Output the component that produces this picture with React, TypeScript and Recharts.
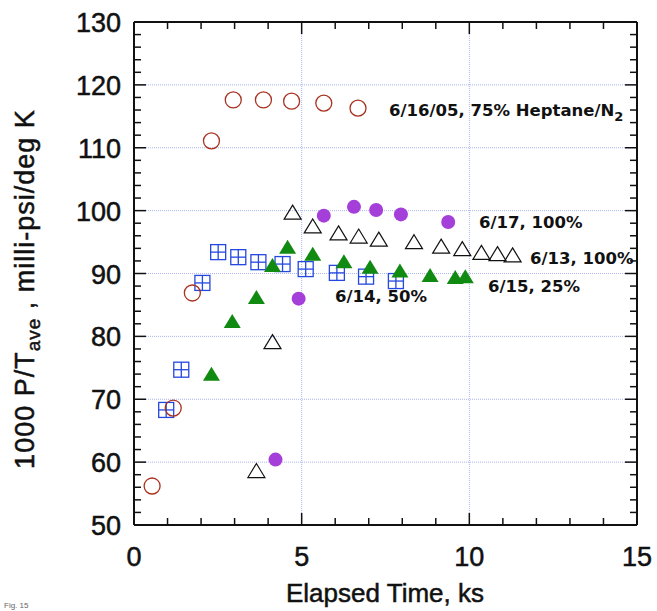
import React from "react";
import { ScatterChart, Scatter, XAxis, YAxis, ReferenceLine } from "recharts";

// elapsed time (ks) vs 1000 P/Tave (milli-psi/deg K)
const run0616 = [
	{ t: 0.54, p: 56.2 },
	{ t: 1.17, p: 68.6 },
	{ t: 1.74, p: 86.9 },
	{ t: 2.31, p: 111.1 },
	{ t: 2.96, p: 117.6 },
	{ t: 3.86, p: 117.6 },
	{ t: 4.7, p: 117.4 },
	{ t: 5.66, p: 117.1 },
	{ t: 6.68, p: 116.3 },
];
const run0614 = [
	{ t: 0.96, p: 68.3 },
	{ t: 1.41, p: 74.7 },
	{ t: 2.04, p: 88.5 },
	{ t: 2.51, p: 93.4 },
	{ t: 3.11, p: 92.6 },
	{ t: 3.71, p: 91.8 },
	{ t: 4.43, p: 91.5 },
	{ t: 5.12, p: 90.7 },
	{ t: 6.05, p: 90.1 },
	{ t: 6.92, p: 89.5 },
	{ t: 7.81, p: 88.8 },
];
const run0613 = [
	{ t: 3.65, p: 58.5 },
	{ t: 4.13, p: 79.0 },
	{ t: 4.73, p: 99.6 },
	{ t: 5.33, p: 97.4 },
	{ t: 6.1, p: 96.3 },
	{ t: 6.7, p: 95.8 },
	{ t: 7.3, p: 95.3 },
	{ t: 8.35, p: 94.9 },
	{ t: 9.16, p: 94.2 },
	{ t: 9.79, p: 93.8 },
	{ t: 10.36, p: 93.2 },
	{ t: 10.84, p: 93.0 },
	{ t: 11.29, p: 92.8 },
];
const run0615 = [
	{ t: 2.31, p: 73.9 },
	{ t: 2.93, p: 82.3 },
	{ t: 3.65, p: 86.1 },
	{ t: 4.13, p: 91.2 },
	{ t: 4.58, p: 94.1 },
	{ t: 5.33, p: 93.0 },
	{ t: 6.26, p: 91.8 },
	{ t: 7.04, p: 90.9 },
	{ t: 7.93, p: 90.3 },
	{ t: 8.83, p: 89.6 },
	{ t: 9.58, p: 89.3 },
	{ t: 9.88, p: 89.4 },
];
const run0617 = [
	{ t: 4.22, p: 60.4 },
	{ t: 4.91, p: 86.0 },
	{ t: 5.66, p: 99.2 },
	{ t: 6.56, p: 100.6 },
	{ t: 7.22, p: 100.1 },
	{ t: 7.96, p: 99.4 },
	{ t: 9.37, p: 98.2 },
];

const xTicks = [0, 1, 2, 3, 4, 5, 6, 7, 8, 9, 10, 11, 12, 13, 14, 15];
const yTicks = [
	50, 52, 54, 56, 58, 60, 62, 64, 66, 68, 70, 72, 74, 76, 78, 80, 82, 84, 86,
	88, 90, 92, 94, 96, 98, 100, 102, 104, 106, 108, 110, 112, 114, 116, 118,
	120, 122, 124, 126, 128, 130,
];
const hGrid = [60, 70, 80, 90, 100, 110, 120];
const vGrid = [5, 10];

const tickFont = {
	fontFamily: "'Liberation Sans', Arial, sans-serif",
	fontSize: 27,
	fill: "#111",
	stroke: "#111",
	strokeWidth: 0.5,
};

const BottomTick = ({ x, y, payload }: any) => {
	const major = payload.value % 5 === 0;
	return (
		<g>
			<line x1={x} y1={y} x2={x} y2={y - (major ? 12 : 7)} stroke="#111" strokeWidth={1.5} />
			{major && (
				<text x={x} y={y + 41} textAnchor="middle" {...tickFont}>
					{payload.value}
				</text>
			)}
		</g>
	);
};
const TopTick = ({ x, y, payload }: any) => {
	const major = payload.value % 5 === 0;
	return <line x1={x} y1={y} x2={x} y2={y + (major ? 12 : 7)} stroke="#111" strokeWidth={1.5} />;
};
const LeftTick = ({ x, y, payload }: any) => {
	const major = payload.value % 10 === 0;
	return (
		<g>
			<line x1={x} y1={y} x2={x + (major ? 12 : 7)} y2={y} stroke="#111" strokeWidth={1.5} />
			{major && (
				<text x={x - 13} y={y + 10} textAnchor="end" {...tickFont}>
					{payload.value}
				</text>
			)}
		</g>
	);
};
const RightTick = ({ x, y, payload }: any) => {
	const major = payload.value % 10 === 0;
	return <line x1={x} y1={y} x2={x - (major ? 12 : 7)} y2={y} stroke="#111" strokeWidth={1.5} />;
};

const OpenCircle = ({ cx, cy }: any) => (
	<circle cx={cx} cy={cy} r={8} fill="none" stroke="#a8321f" strokeWidth={1.3} />
);
const FilledCircle = ({ cx, cy }: any) => <circle cx={cx} cy={cy} r={7} fill="#a43fd9" />;
const CrossSquare = ({ cx, cy }: any) => (
	<g stroke="#2448e0" strokeWidth={1.3} fill="none">
		<rect x={cx - 7.5} y={cy - 7.5} width={15} height={15} />
		<line x1={cx} y1={cy - 7.5} x2={cx} y2={cy + 7.5} />
		<line x1={cx - 7.5} y1={cy} x2={cx + 7.5} y2={cy} />
	</g>
);
const triPoints = (cx: number, cy: number) =>
	`${cx},${cy - 8} ${cx + 8.5},${cy + 6} ${cx - 8.5},${cy + 6}`;
const OpenTriangle = ({ cx, cy }: any) => (
	<polygon points={triPoints(cx, cy)} fill="none" stroke="#111" strokeWidth={1.2} />
);
const FilledTriangle = ({ cx, cy }: any) => <polygon points={triPoints(cx, cy)} fill="#118a11" />;

const noteFont = {
	fontFamily: "'DejaVu Sans', sans-serif",
	fontWeight: 700,
	fontSize: 16.5,
	fill: "#111",
};
const labelFont = {
	fontFamily: "'Liberation Sans', Arial, sans-serif",
	fontSize: 26,
	fill: "#111",
	stroke: "#111",
	strokeWidth: 0.5,
};

const App = () => {
	return (
		<div style={{ position: "absolute", left: 0, top: 0, width: 657, height: 611, background: "#fff" }}>
			<ScatterChart width={657} height={611} margin={{ top: 2, right: 0, bottom: 0, left: 0 }}>
				<XAxis
					xAxisId="b"
					dataKey="t"
					type="number"
					domain={[0, 15]}
					ticks={xTicks}
					interval={0}
					height={86}
					tickSize={0}
					tickMargin={0}
					tickLine={false}
					tick={<BottomTick />}
					axisLine={{ stroke: "#111", strokeWidth: 2 }}
					allowDataOverflow
				/>
				<XAxis
					xAxisId="t"
					orientation="top"
					dataKey="t"
					type="number"
					domain={[0, 15]}
					ticks={xTicks}
					interval={0}
					height={20}
					tickSize={0}
					tickMargin={0}
					tickLine={false}
					tick={<TopTick />}
					axisLine={{ stroke: "#111", strokeWidth: 2 }}
					allowDataOverflow
				/>
				<YAxis
					yAxisId="l"
					dataKey="p"
					type="number"
					domain={[50, 130]}
					ticks={yTicks}
					interval={0}
					width={134}
					tickSize={0}
					tickMargin={0}
					tickLine={false}
					tick={<LeftTick />}
					axisLine={{ stroke: "#111", strokeWidth: 2 }}
					allowDataOverflow
				/>
				<YAxis
					yAxisId="r"
					orientation="right"
					dataKey="p"
					type="number"
					domain={[50, 130]}
					ticks={yTicks}
					interval={0}
					width={20}
					tickSize={0}
					tickMargin={0}
					tickLine={false}
					tick={<RightTick />}
					axisLine={{ stroke: "#111", strokeWidth: 2 }}
					allowDataOverflow
				/>
				{hGrid.map((v) => (
					<ReferenceLine
						key={"h" + v}
						xAxisId="b"
						yAxisId="l"
						y={v}
						stroke="#a9b5ef"
						strokeWidth={1}
						strokeDasharray="1 1"
					/>
				))}
				{vGrid.map((v) => (
					<ReferenceLine
						key={"v" + v}
						xAxisId="b"
						yAxisId="l"
						x={v}
						stroke="#a9b5ef"
						strokeWidth={1}
						strokeDasharray="1 1"
					/>
				))}
				<Scatter xAxisId="b" yAxisId="l" data={run0614} shape={<CrossSquare />} isAnimationActive={false} />
				<Scatter xAxisId="b" yAxisId="l" data={run0616} shape={<OpenCircle />} isAnimationActive={false} />
				<Scatter xAxisId="b" yAxisId="l" data={run0613} shape={<OpenTriangle />} isAnimationActive={false} />
				<Scatter xAxisId="b" yAxisId="l" data={run0615} shape={<FilledTriangle />} isAnimationActive={false} />
				<Scatter xAxisId="b" yAxisId="l" data={run0617} shape={<FilledCircle />} isAnimationActive={false} />
			</ScatterChart>
			<svg
				width={657}
				height={611}
				style={{ position: "absolute", left: 0, top: 0, pointerEvents: "none" }}
			>
				<text x={389} y={116} {...noteFont}>
					6/16/05, 75% Heptane/N
					<tspan fontSize={13} dy={5}>
						2
					</tspan>
				</text>
				<text x={479} y={228} {...noteFont}>
					6/17, 100%
				</text>
				<text x={530} y={264} {...noteFont}>
					6/13, 100%
				</text>
				<text x={488} y={292} {...noteFont}>
					6/15, 25%
				</text>
				<text x={335} y={302} {...noteFont}>
					6/14, 50%
				</text>
				<text x={385} y={602} textAnchor="middle" {...labelFont}>
					Elapsed Time, ks
				</text>
				<text
					x={34}
					y={289}
					textAnchor="middle"
					transform="rotate(-90, 34, 289)"
					{...labelFont}
					fontSize={27}
					letterSpacing={1}
				>
					1000 P/T
					<tspan fontSize={19} dy={6}>
						ave
					</tspan>
					<tspan dy={-6}> , milli-psi/deg K</tspan>
				</text>
				<text x={4} y={608} fontFamily="'Liberation Sans', Arial, sans-serif" fontSize={8} fill="#666">
					Fig. 15
				</text>
			</svg>
		</div>
	);
};

export default App;
